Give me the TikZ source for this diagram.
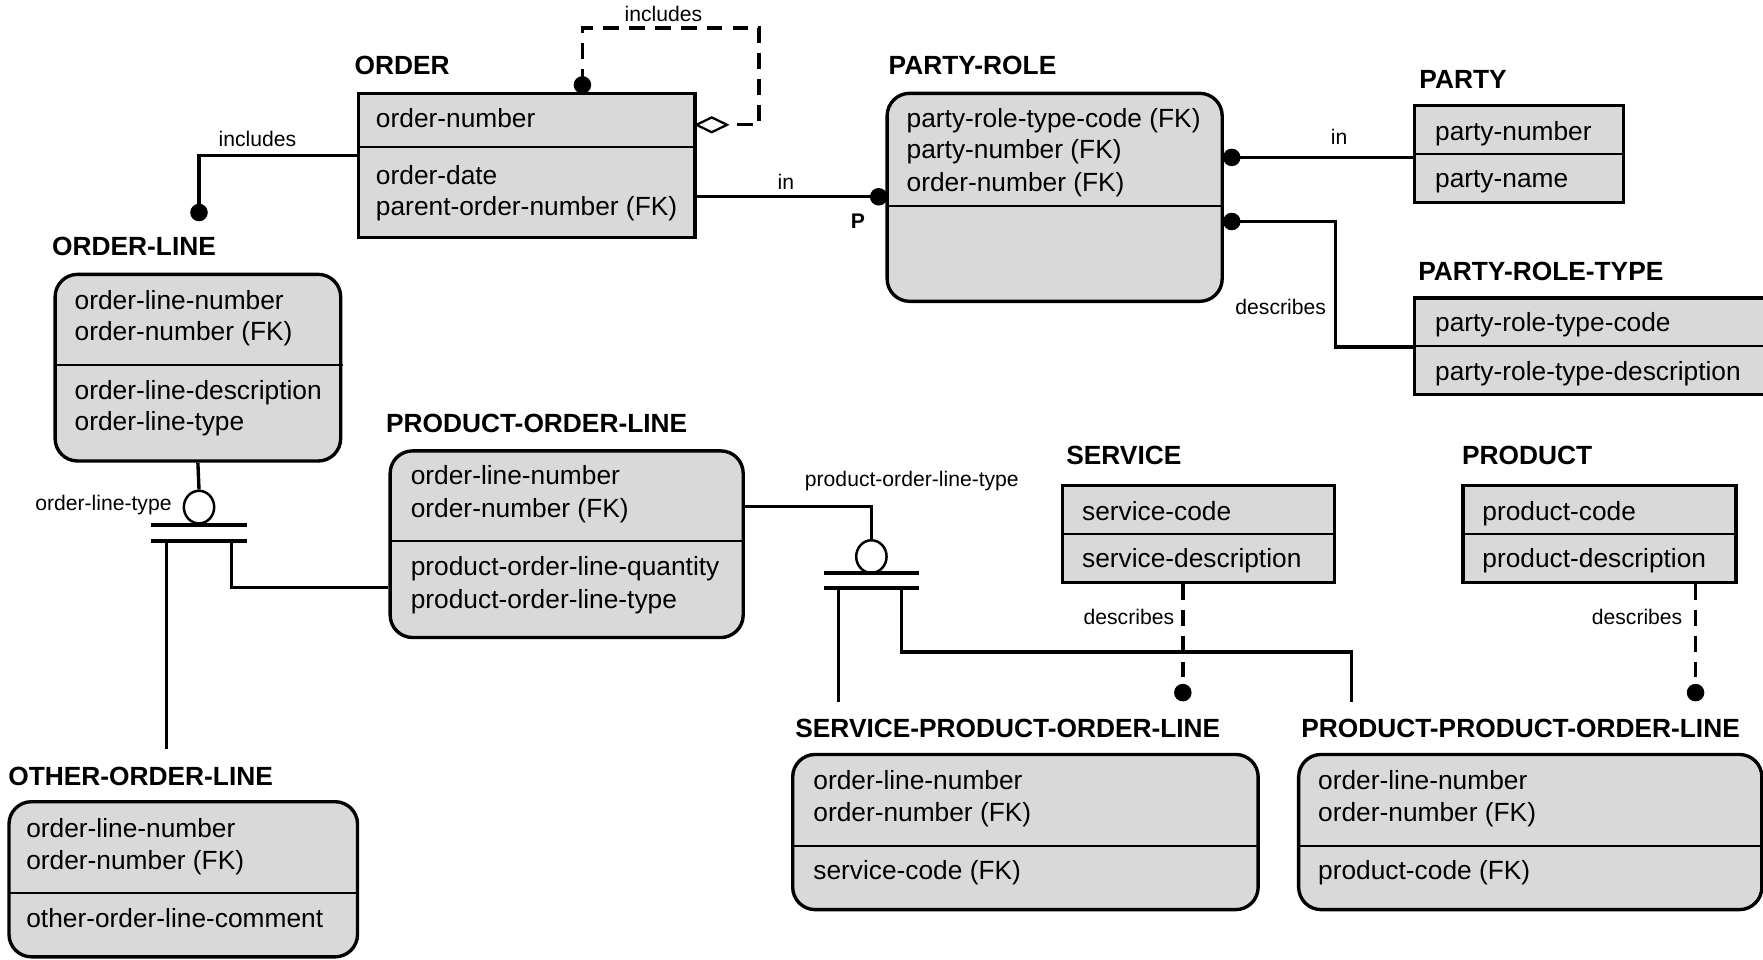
\documentclass[tikz,border=0pt]{standalone}
\usepackage{fontspec}
\setmainfont{Liberation Sans}
\usetikzlibrary{shapes.geometric,calc,fit}
\definecolor{boxfill}{RGB}{217,217,217}
\tikzset{
  ent/.style={draw, line width=1.5pt, fill=boxfill, inner sep=0pt},
  rent/.style={ent, rounded corners=10pt},
  divl/.style={line width=0.9pt},
  att/.style={anchor=base west, inner sep=0pt, font=\fontsize{11.7}{14}\selectfont},
  ttl/.style={anchor=base west, inner sep=0pt, font=\fontsize{11.7}{14}\selectfont\bfseries},
  lbl/.style={inner sep=0pt, font=\fontsize{9.4}{11}\selectfont},
  conn/.style={line width=1.5pt},
  dconn/.style={line width=1.5pt, dash pattern=on 7pt off 4.5pt},
  dot/.style={circle, fill=black, inner sep=0pt, minimum size=7.8pt},
  bar/.style={line width=1.8pt},
  subc/.style={ellipse, draw, line width=1.1pt, inner sep=0pt, minimum width=13.5pt, minimum height=14.5pt},
}
\begin{document}
\begin{tikzpicture}[x=0.5pt,y=-0.5pt]
\useasboundingbox (0,0) rectangle (1568,853);

% ---------- entity boxes ----------
\node[ent,  fit={(319,83) (618,211)}] (ord) {};
\node[rent, fit={(789,83) (1087,268)}] (pr) {};
\node[ent,  fit={(1258,94) (1444,180)}] (party) {};
\node[ent,  fit={(1258,265) (1620,351)}] (prt) {};
\node[rent, fit={(49,244) (303,410)}] (ol) {};
\node[rent, fit={(347,401) (661,567)}] (pol) {};
\node[ent,  fit={(945,432) (1187,518)}] (svc) {};
\node[ent,  fit={(1301,432) (1544,518)}] (prod) {};
\node[rent, fit={(705,671) (1119,809)}] (spol) {};
\node[rent, fit={(1155,671) (1567,809)}] (ppol) {};
\node[rent, fit={(8,713) (318,851)}] (ool) {};

% ---------- dividers ----------
\draw[divl] (319,131) -- (618,131);
\draw[divl] (789,183) -- (1087,183);
\draw[divl] (1258,137) -- (1444,137);
\draw[divl] (1258,308) -- (1620,308);
\draw[divl] (49,325) -- (305,325);
\draw[divl] (347,481) -- (661,481);
\draw[divl] (945,475) -- (1187,475);
\draw[divl] (1301,475) -- (1544,475);
\draw[divl] (705,752) -- (1119,752);
\draw[divl] (1155,752) -- (1567,752);
\draw[divl] (8,794) -- (318,794);

% ---------- titles ----------
\node[ttl] (tord)   at (315,66.5)  {ORDER};
\node[ttl] (tpr)    at (790,66.5)  {PARTY-ROLE};
\node[ttl] (tparty) at (1262,78.5) {PARTY};
\node[ttl] (tprt)   at (1261,249.5) {PARTY-ROLE-TYPE};
\node[ttl] (tol)    at (46,227.5)  {ORDER-LINE};
\node[ttl] (tpol)   at (343,384.5) {PRODUCT-ORDER-LINE};
\node[ttl] (tsvc)   at (948,413.5) {SERVICE};
\node[ttl] (tprod)  at (1300,413.5) {PRODUCT};
\node[ttl] (tspol)  at (707,655.5) {SERVICE-PRODUCT-ORDER-LINE};
\node[ttl] (tppol)  at (1157,655.5) {PRODUCT-PRODUCT-ORDER-LINE};
\node[ttl] (tool)   at (7,698.5)   {OTHER-ORDER-LINE};

% ---------- attributes ----------
\node[att] (a1) at (334,113) {order-number};
\node[att] (a2) at (334,164) {order-date};
\node[att] (a3) at (334,192) {parent-order-number (FK)};

\node[att] (b1) at (806,113) {party-role-type-code (FK)};
\node[att] (b2) at (806,141) {party-number (FK)};
\node[att] (b3) at (806,170) {order-number (FK)};

\node[att] (c1) at (1276,125) {party-number};
\node[att] (c2) at (1276,167) {party-name};

\node[att] (e1) at (1276,295) {party-role-type-code};
\node[att] (e2) at (1276,338) {party-role-type-description};

\node[att] (f1) at (66,275) {order-line-number};
\node[att] (f2) at (66,303) {order-number (FK)};
\node[att] (f3) at (66,355) {order-line-description};
\node[att] (f4) at (66,383) {order-line-type};

\node[att] (g1) at (365,431) {order-line-number};
\node[att] (g2) at (365,460) {order-number (FK)};
\node[att] (g3) at (365,512) {product-order-line-quantity};
\node[att] (g4) at (365,541) {product-order-line-type};

\node[att] (h1) at (962,463) {service-code};
\node[att] (h2) at (962,505) {service-description};

\node[att] (i1) at (1318,463) {product-code};
\node[att] (i2) at (1318,505) {product-description};

\node[att] (j1) at (723,702.5) {order-line-number};
\node[att] (j2) at (723,730.5) {order-number (FK)};
\node[att] (j3) at (723,782.5) {service-code (FK)};

\node[att] (k1) at (1172,702.5) {order-line-number};
\node[att] (k2) at (1172,730.5) {order-number (FK)};
\node[att] (k3) at (1172,782.5) {product-code (FK)};

\node[att] (m1) at (23,745) {order-line-number};
\node[att] (m2) at (23,773) {order-number (FK)};
\node[att] (m3) at (23,825) {other-order-line-comment};

% ---------- dots, diamond, subtype circles ----------
\node[dot] (d1) at (518,75.5) {};
\node[dot] (d2) at (177,189) {};
\node[dot] (d3) at (781.5,175) {};
\node[dot] (d4) at (1095.5,140) {};
\node[dot] (d5) at (1095.5,197) {};
\node[dot] (d8) at (1052,616) {};
\node[dot] (d9) at (1508,616) {};
\node[diamond, draw, fill=white, line width=1pt, inner sep=0pt, aspect=2,
      minimum width=14pt, minimum height=7pt] (dia) at (633,111) {};
\node[subc] (sc1) at (177,451) {};
\node[subc] (sc2) at (775,495) {};

% ---------- helper coordinates ----------
\coordinate (lp2) at (675,25);
\coordinate (k5) at (1188,197);
\coordinate (leg1) at (148,666);
\coordinate (leg2) at (746,624);
\coordinate (leg3) at (1202,624);
\coordinate (bend3) at (802,580);

% ---------- connectors ----------
% ORDER self relationship
\draw[dconn] (d1.center) |- (lp2) |- (dia.east);
\node[lbl] (l1) at (590,12) {includes};
% ORDER -> ORDER-LINE
\draw[conn] ($(ord.north west)+(0,57)$) -| (d2.center);
\node[lbl] (l2) at (229,124) {includes};
% ORDER -> PARTY-ROLE
\draw[conn] (ord.east |- d3) -- (d3.center);
\node[lbl] (l3) at (699,162) {in};
\node[lbl, font=\fontsize{9.4}{11}\selectfont\bfseries] (lp) at (763,197) {P};
% PARTY -> PARTY-ROLE
\draw[conn] (d4.center) -- (party.west |- d4);
\node[lbl] (l4) at (1191,122) {in};
% PARTY-ROLE-TYPE -> PARTY-ROLE
\draw[conn] (d5.center) -- (k5) |- ($(prt.north west)+(0,45)$);
\node[lbl] (l5) at (1139,273) {describes};

% subtype ORDER-LINE
\draw[conn] (ol.south) -- (sc1.north);
\draw[bar] (134,467) -- (220,467);
\draw[bar] (134,481) -- (220,481);
\draw[conn] (148,481) -- (leg1);
\draw[conn] (206,481) |- ($(pol.north west)+(0,123)$);
\node[lbl] (l6) at (92,449) {order-line-type};

% subtype PRODUCT-ORDER-LINE
\draw[conn] ($(pol.north east)+(0,51)$) -| (sc2.north);
\draw[bar] (733,510) -- (817,510);
\draw[bar] (733,523) -- (817,523);
\draw[conn] (746,523) -- (leg2);
\draw[conn] (802,523) -- (bend3) -| (leg3);
\node[lbl] (l7) at (811,428) {product-order-line-type};

% SERVICE / PRODUCT describes
\draw[dconn] (svc.south -| d8) -- (d8.center);
\node[lbl] (l8) at (1004,549) {describes};
\draw[dconn] (prod.south -| d9) -- (d9.center);
\node[lbl] (l9) at (1456,549) {describes};
\end{tikzpicture}
\end{document}
